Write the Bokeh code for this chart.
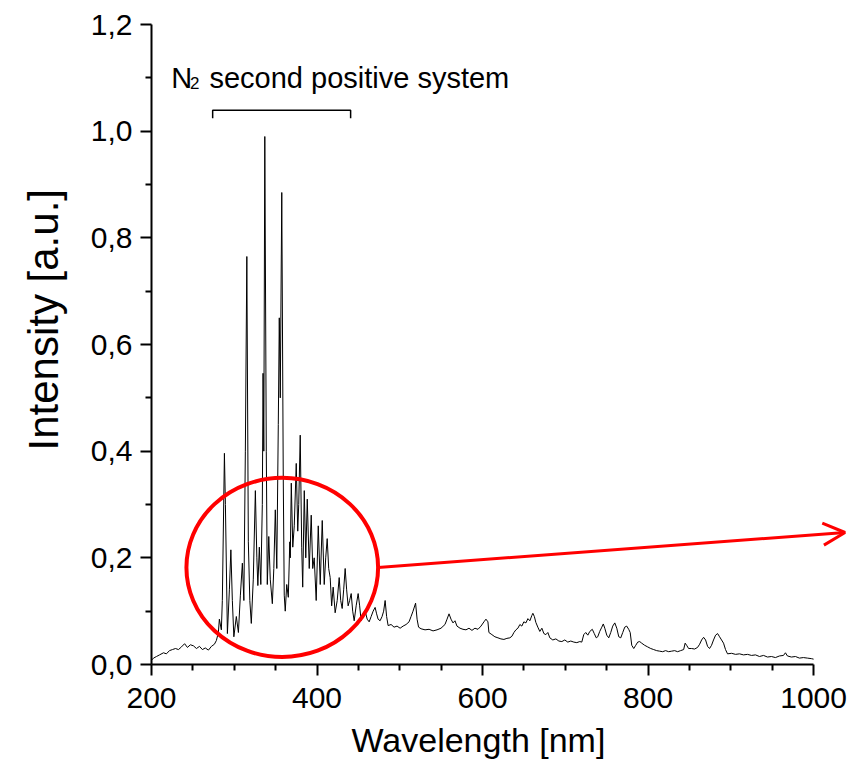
from bokeh.plotting import figure
from bokeh.models import FixedTicker, CustomJSTickFormatter, Arrow, OpenHead, Range1d, Title
from bokeh.core.properties import value
from bokeh.embed import file_html
from bokeh.resources import INLINE

# --- spectrum (wavelength in nm, intensity in a.u.) ---
wavelength = [
    200.0, 202.4, 206.0, 209.7, 214.5, 218.0, 221.7, 225.3, 229.0, 232.6, 236.2, 240.0,
    243.4, 247.0, 250.7, 254.3, 258.0, 261.5, 265.0, 268.8, 272.4, 276.0, 278.4, 280.8,
    282.0, 284.4, 285.6, 288.1, 289.3, 291.7, 294.1, 295.9, 297.7, 299.5, 302.5, 305.0,
    307.4, 309.8, 311.6, 313.4, 315.2, 317.0, 318.8, 320.6, 323.0, 325.5, 327.3, 328.5,
    330.3, 332.1, 333.9, 334.8, 335.7, 336.9, 338.7, 339.9, 341.7, 343.5, 346.0, 347.8,
    349.6, 351.4, 353.2, 354.4, 355.6, 357.4, 359.2, 360.4, 361.6, 363.4, 365.3, 367.1,
    367.7, 368.9, 370.7, 372.5, 374.9, 376.7, 377.9, 379.7, 381.5, 382.7, 384.6, 386.4,
    388.2, 390.6, 393.0, 394.8, 396.6, 399.0, 401.5, 403.9, 406.3, 408.7, 410.5, 412.3,
    414.1, 415.9, 417.7, 419.5, 421.9, 424.4, 426.8, 428.6, 430.4, 432.2, 434.0, 435.8,
    437.6, 439.4, 441.3, 443.1, 444.9, 447.3, 449.7, 451.5, 453.3, 455.7, 458.2, 460.6,
    463.0, 465.4, 467.8, 470.2, 472.0, 473.8, 476.2, 478.6, 480.5, 482.3, 484.1, 485.9,
    489.5, 493.1, 496.7, 500.4, 504.0, 507.6, 511.2, 513.6, 516.0, 519.1, 520.9, 522.7,
    525.7, 530.5, 535.4, 540.2, 545.0, 549.8, 554.6, 557.1, 559.5, 561.9, 564.3, 566.7,
    569.1, 572.8, 576.4, 580.0, 583.6, 587.2, 590.8, 594.5, 598.1, 601.7, 604.1, 606.5,
    607.7, 611.3, 614.9, 618.6, 622.2, 625.8, 629.4, 633.0, 635.5, 637.9, 640.3, 642.7,
    645.1, 647.5, 649.9, 652.4, 654.8, 657.2, 659.6, 660.8, 662.6, 664.4, 666.8, 669.2,
    671.7, 674.1, 676.5, 678.9, 681.3, 684.9, 688.6, 692.2, 695.8, 699.4, 703.0, 706.6,
    710.3, 713.9, 717.5, 719.9, 722.3, 724.7, 727.2, 729.6, 732.6, 735.0, 737.4, 739.2,
    741.6, 744.1, 745.9, 747.7, 750.1, 752.5, 754.9, 757.3, 759.8, 762.2, 764.6, 767.0,
    769.4, 771.8, 774.2, 776.6, 778.4, 780.3, 782.7, 785.1, 787.5, 789.9, 792.3, 795.9,
    799.5, 803.2, 806.8, 810.4, 814.0, 817.6, 821.2, 824.9, 828.5, 832.1, 835.7, 839.3,
    843.0, 844.8, 846.6, 849.0, 852.6, 856.2, 859.8, 862.3, 864.7, 867.1, 869.5, 871.9,
    874.3, 876.7, 879.1, 881.6, 884.0, 886.4, 888.8, 891.2, 893.6, 896.0, 900.9, 905.7,
    910.5, 915.3, 920.2, 925.0, 929.8, 934.6, 939.5, 944.3, 949.1, 953.9, 958.8, 963.6,
    966.0, 968.4, 973.2, 978.1, 982.9, 987.7, 992.5, 997.3, 1000.0,
]
intensity = [
    0.008, 0.012, 0.015, 0.018, 0.022, 0.020, 0.026, 0.028, 0.030, 0.028, 0.033, 0.039,
    0.032, 0.037, 0.035, 0.030, 0.034, 0.028, 0.031, 0.027, 0.034, 0.038, 0.045, 0.060,
    0.085, 0.065, 0.120, 0.396, 0.300, 0.058, 0.140, 0.215, 0.120, 0.052, 0.090, 0.060,
    0.130, 0.190, 0.120, 0.400, 0.765, 0.230, 0.120, 0.077, 0.160, 0.326, 0.200, 0.148,
    0.220, 0.150, 0.300, 0.546, 0.400, 0.990, 0.400, 0.150, 0.240, 0.160, 0.114, 0.180,
    0.290, 0.180, 0.450, 0.650, 0.500, 0.885, 0.350, 0.130, 0.100, 0.150, 0.126, 0.230,
    0.200, 0.340, 0.220, 0.260, 0.377, 0.250, 0.300, 0.430, 0.220, 0.145, 0.326, 0.200,
    0.310, 0.180, 0.280, 0.180, 0.200, 0.120, 0.260, 0.150, 0.270, 0.150, 0.200, 0.236,
    0.180, 0.163, 0.110, 0.145, 0.097, 0.120, 0.163, 0.120, 0.105, 0.140, 0.180, 0.140,
    0.110, 0.120, 0.133, 0.100, 0.082, 0.110, 0.133, 0.110, 0.082, 0.095, 0.100, 0.085,
    0.080, 0.090, 0.100, 0.107, 0.095, 0.085, 0.082, 0.090, 0.100, 0.120, 0.090, 0.073,
    0.075, 0.070, 0.072, 0.068, 0.072, 0.075, 0.080, 0.090, 0.100, 0.115, 0.085, 0.070,
    0.067, 0.065, 0.066, 0.063, 0.065, 0.068, 0.075, 0.085, 0.095, 0.085, 0.078, 0.082,
    0.072, 0.068, 0.066, 0.065, 0.068, 0.064, 0.068, 0.066, 0.072, 0.080, 0.085, 0.080,
    0.060, 0.056, 0.052, 0.050, 0.048, 0.047, 0.049, 0.050, 0.053, 0.060, 0.065, 0.068,
    0.075, 0.072, 0.080, 0.078, 0.086, 0.082, 0.092, 0.096, 0.090, 0.079, 0.070, 0.062,
    0.068, 0.058, 0.056, 0.060, 0.050, 0.046, 0.048, 0.044, 0.043, 0.046, 0.042, 0.044,
    0.042, 0.041, 0.043, 0.042, 0.056, 0.060, 0.055, 0.062, 0.066, 0.058, 0.050, 0.052,
    0.062, 0.070, 0.076, 0.068, 0.055, 0.050, 0.060, 0.072, 0.078, 0.068, 0.052, 0.050,
    0.060, 0.070, 0.072, 0.066, 0.060, 0.036, 0.030, 0.036, 0.042, 0.043, 0.040, 0.036,
    0.033, 0.030, 0.028, 0.026, 0.025, 0.024, 0.026, 0.024, 0.025, 0.026, 0.024, 0.026,
    0.028, 0.040, 0.036, 0.030, 0.030, 0.029, 0.032, 0.038, 0.046, 0.051, 0.046, 0.034,
    0.030, 0.036, 0.046, 0.055, 0.058, 0.052, 0.046, 0.040, 0.028, 0.020, 0.021, 0.019,
    0.020, 0.018, 0.019, 0.017, 0.018, 0.015, 0.017, 0.014, 0.015, 0.013, 0.016, 0.017,
    0.022, 0.016, 0.014, 0.015, 0.012, 0.013, 0.012, 0.011, 0.010,
]

# --- axes ---
x_ticks = [200, 400, 600, 800, 1000]
x_minor_ticks = [250, 300, 350, 450, 500, 550, 650, 700, 750, 850, 900, 950]
y_ticks = [0.0, 0.2, 0.4, 0.6, 0.8, 1.0, 1.2]
y_minor_ticks = [0.1, 0.3, 0.5, 0.7, 0.9, 1.1]
x_axis_bounds = (200, 1000)
x_view = (200, 1044.6)   # frame extends right of 1000 so the arrow fits; axis stops at 1000
y_view = (0.0, 1.2)
x_title = "Wavelength [nm]"
y_title = "Intensity [a.u.]"

# --- annotations ---
band_label_main = "N"
band_label_sub = "2"
band_label_rest = "second positive system"
band_label_x = [224.0, 246.5, 270.0]
band_label_y = [1.100, 1.091, 1.100]
bracket_x = [273.9, 273.9, 440.6, 440.6]
bracket_y = [1.024, 1.039, 1.039, 1.024]
circle_center = (358.0, 0.182)
circle_size = (231.6, 0.336)
arrow_start = (473.8, 0.182)
arrow_end = (1038.0, 0.2475)

FONT = "Liberation Sans"

p = figure(width=850, height=774, output_backend="svg", toolbar_location=None,
           x_range=Range1d(*x_view), y_range=Range1d(*y_view),
           min_border_left=150, min_border_right=0, min_border_top=24,
           min_border_bottom=110)
p.outline_line_color = None
p.grid.visible = False
p.background_fill_color = "white"
p.border_fill_color = "white"

p.line(wavelength, intensity, line_color="black", line_width=1)

p.xaxis.ticker = FixedTicker(ticks=x_ticks, minor_ticks=x_minor_ticks)
p.yaxis.ticker = FixedTicker(ticks=y_ticks, minor_ticks=y_minor_ticks)
p.xaxis.bounds = x_axis_bounds
p.yaxis.formatter = CustomJSTickFormatter(code="return tick.toFixed(1).replace('.', ',');")

for ax in (p.xaxis, p.yaxis):
    ax.axis_line_width = 2
    ax.axis_line_color = "black"
    ax.major_tick_line_width = 2
    ax.minor_tick_line_width = 2
    ax.major_tick_line_color = "black"
    ax.minor_tick_line_color = "black"
    ax.major_tick_in = 0
    ax.major_tick_out = 11
    ax.minor_tick_in = 0
    ax.minor_tick_out = 6
    ax.major_label_text_font = FONT
    ax.major_label_text_font_size = "30px"
    ax.major_label_text_color = "black"
p.xaxis.major_label_standoff = 12
p.yaxis.major_label_standoff = 8

# axis titles placed as side titles so they can be positioned like the original
p.add_layout(Title(text=x_title, align="left", offset=200, standoff=20,
                   vertical_align="top",
                   text_font=FONT, text_font_size="34px", text_font_style="normal",
                   text_color="black"), "below")
p.add_layout(Title(text=y_title, align="left", offset=214, standoff=38,
                   vertical_align="top",
                   text_font=FONT, text_font_size="42px", text_font_style="normal",
                   text_color="black"), "left")

# N2 label
p.text(x=[band_label_x[0]], y=[band_label_y[0]], text=[band_label_main],
       text_font=value(FONT), text_font_size="29px", text_baseline="alphabetic",
       text_align="left", text_color="black")
p.text(x=[band_label_x[1]], y=[band_label_y[1]], text=[band_label_sub],
       text_font=value(FONT), text_font_size="17px", text_baseline="alphabetic",
       text_align="left", text_color="black")
p.text(x=[band_label_x[2]], y=[band_label_y[2]], text=[band_label_rest],
       text_font=value(FONT), text_font_size="29px", text_baseline="alphabetic",
       text_align="left", text_color="black")
p.line(bracket_x, bracket_y, line_color="black", line_width=1.5)

# red circle + arrow
p.ellipse(x=[circle_center[0]], y=[circle_center[1]], width=[circle_size[0]],
          height=[circle_size[1]], fill_color=None, line_color="#ff0000", line_width=4)
p.add_layout(Arrow(x_start=arrow_start[0], y_start=arrow_start[1],
                   x_end=arrow_end[0], y_end=arrow_end[1],
                   line_color="#ff0000", line_width=3,
                   end=OpenHead(size=22, line_color="#ff0000", line_width=3)))

open("out.html", "w").write(file_html(p, INLINE))
